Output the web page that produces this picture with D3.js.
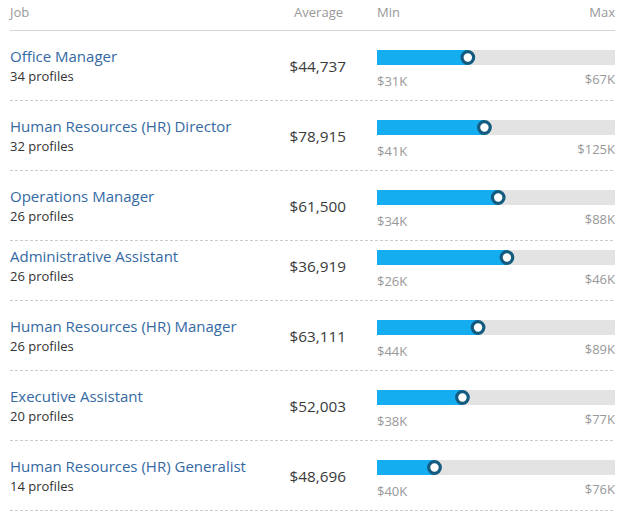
<!DOCTYPE html>
<html>
<head>
<meta charset="utf-8">
<script src="https://cdn.jsdelivr.net/npm/d3@7"></script>
<style>
  html, body { margin: 0; padding: 0; background: #fff; }
  svg { display: block; font-family: "Open Sans", sans-serif; }
</style>
</head>
<body>
<svg id="chart" width="628" height="520"></svg>
<script>
const headers = ["Job", "Average", "Min", "Max"];
const jobs = [
  "Office Manager",
  "Human Resources (HR) Director",
  "Operations Manager",
  "Administrative Assistant",
  "Human Resources (HR) Manager",
  "Executive Assistant",
  "Human Resources (HR) Generalist"
];
const profiles = [34, 32, 26, 26, 26, 20, 14];
const averages = [44737, 78915, 61500, 36919, 63111, 52003, 48696];
const mins = [31, 41, 34, 26, 44, 38, 40];   // $K
const maxs = [67, 125, 88, 46, 89, 77, 76];  // $K

const svg = d3.select("#chart");
const left = 10, right = 615;
const barX0 = 377, barX1 = 615;
const avgRight = 346;
const headerLineY = 30;
const rowH = 70;

// layout: row 4 sits 10px higher than the regular pitch in the reference
const rowTop = i => headerLineY + i * rowH - (i >= 3 ? 10 : 0);

// header
const hdr = svg.append("g").attr("fill", "#999").attr("font-size", 13);
hdr.append("text").attr("x", left).attr("y", 17).text(headers[0]);
hdr.append("text").attr("x", avgRight - 3).attr("y", 17).attr("text-anchor", "end").text(headers[1]);
hdr.append("text").attr("x", barX0).attr("y", 17).text(headers[2]);
hdr.append("text").attr("x", right).attr("y", 17).attr("text-anchor", "end").text(headers[3]);
svg.append("line").attr("x1", left).attr("x2", right)
  .attr("y1", headerLineY + 0.5).attr("y2", headerLineY + 0.5)
  .attr("stroke", "#d6d6d6").attr("stroke-width", 1);

const fmtAvg = d3.format("$,");
const rows = svg.selectAll("g.row").data(jobs).join("g")
  .attr("class", "row")
  .attr("transform", (d, i) => `translate(0,${rowTop(i)})`);

rows.append("text").attr("x", left).attr("y", 32)
  .attr("font-size", 15).attr("fill", "#3469a3").text(d => d);
rows.append("text").attr("x", left).attr("y", 51)
  .attr("font-size", 13).attr("fill", "#333").text((d, i) => profiles[i] + " profiles");
rows.append("text").attr("x", avgRight).attr("y", 42).attr("text-anchor", "end")
  .attr("font-size", 15.3).attr("fill", "#3a3a3a").text((d, i) => fmtAvg(averages[i]));

rows.each(function(d, i) {
  const g = d3.select(this);
  const x = d3.scaleLinear().domain([mins[i] * 1000, maxs[i] * 1000]).range([barX0, barX1]);
  g.append("rect").attr("x", x(mins[i] * 1000)).attr("y", 20)
    .attr("width", x(maxs[i] * 1000) - x(mins[i] * 1000)).attr("height", 15)
    .attr("fill", "#e3e3e3");
  g.append("rect").attr("x", x(mins[i] * 1000)).attr("y", 20)
    .attr("width", x(averages[i]) - x(mins[i] * 1000)).attr("height", 15)
    .attr("fill", "#14aef0");
  g.append("circle").attr("cx", x(averages[i])).attr("cy", 27.5).attr("r", 5.8)
    .attr("fill", "#fff").attr("stroke", "#145b80").attr("stroke-width", 3.2);
  g.append("text").attr("x", barX0).attr("y", 56).attr("font-size", 13)
    .attr("fill", "#999").text("$" + mins[i] + "K");
  g.append("text").attr("x", barX1).attr("y", 54).attr("text-anchor", "end")
    .attr("font-size", 13).attr("fill", "#999").text("$" + maxs[i] + "K");
  g.append("line").attr("x1", left).attr("x2", right)
    .attr("y1", rowH + 0.5).attr("y2", rowH + 0.5)
    .attr("stroke", "#cccccc").attr("stroke-dasharray", "3,2");
});
</script>
</body>
</html>
